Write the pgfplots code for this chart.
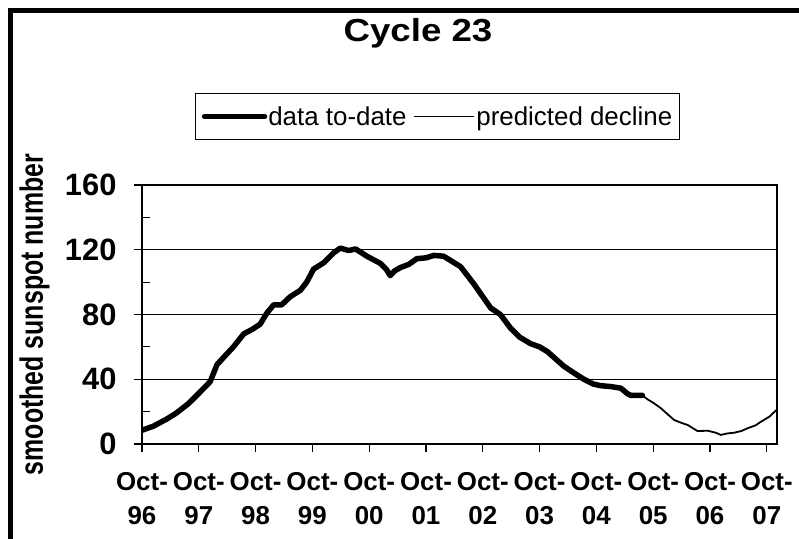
\documentclass[border=0pt]{standalone}
\usepackage{fontspec}
\setmainfont{Liberation Sans}
\usepackage{pgfplots}
\pgfplotsset{compat=1.18}

\pgfplotstableread{
x y
0.00 8.5
0.20 11
0.44 15.5
0.60 19
0.82 25
1.02 32
1.20 38.5
1.32 49
1.45 54
1.61 60
1.79 68
1.95 71
2.08 74
2.20 81
2.32 86
2.46 86
2.61 91
2.79 95
2.90 100
3.02 108
3.20 112
3.37 118
3.49 121
3.64 119.5
3.76 120.5
3.96 116
4.20 111.5
4.30 108
4.37 104
4.45 107
4.55 109
4.70 111
4.84 114.5
5.00 115
5.14 116.5
5.31 116
5.45 113
5.61 109.5
5.84 99
6.00 91
6.14 84
6.31 80
6.49 71.5
6.65 66
6.84 62
7.00 60
7.14 57
7.30 52
7.43 48
7.60 44
7.78 40
7.95 37
8.08 36
8.25 35.5
8.43 34.5
8.55 31
8.61 30
8.81 30
}\datatable

\pgfplotstableread{
x y
8.81 30
8.90 27.6
9.00 25.5
9.14 22
9.25 18.5
9.37 14.8
9.50 13
9.61 11.7
9.78 8
9.96 8.2
10.10 7
10.19 5.6
10.30 6.5
10.43 7
10.55 8
10.66 9.7
10.80 11.5
10.90 13.8
11.05 17
11.18 21.4
}\predtable

\begin{document}
\begin{tikzpicture}
\useasboundingbox (-142bp,-95bp) rectangle (657bp,444bp);
\fill[white] (-142bp,-95bp) rectangle (657bp,444bp);
\draw[line width=5bp] (-131.5bp,-95bp) -- (-131.5bp,433.5bp) -- (657bp,433.5bp);
\node[font=\fontsize{32}{38}\selectfont\bfseries, xscale=1.15, anchor=base] at (276bp,402bp) {Cycle 23};
\begin{axis}[
  at={(0,0)}, anchor=south west,
  scale only axis, width=635bp, height=259bp,
  xmin=0, xmax=11.18, ymin=0, ymax=160,
  axis line style={line width=1.5bp},
  xtick={0,...,11},
  xticklabels={{Oct-\\96},{Oct-\\97},{Oct-\\98},{Oct-\\99},{Oct-\\00},{Oct-\\01},{Oct-\\02},{Oct-\\03},{Oct-\\04},{Oct-\\05},{Oct-\\06},{Oct-\\07}},
  ytick={0,40,...,160},
  extra y ticks={20,60,100,140}, extra y tick labels={},
  extra y tick style={tick align=inside, grid=none},
  tick align=outside, major tick length=8bp,
  tick style={black, line width=1.2bp},
  xtick pos=bottom, ytick pos=left,
  ymajorgrids, major grid style={black, line width=1.2bp},
  /pgf/number format/assume math mode=true,
  yticklabel style={font=\fontsize{31}{36}\selectfont\bfseries, anchor=east, xshift=-14bp},
  xticklabel style={font=\fontsize{26}{34}\selectfont\bfseries, align=center, yshift=-17bp},
  ylabel={smoothed sunspot number},
  ylabel style={font=\fontsize{25}{30}\selectfont\bfseries, at={(axis description cs:-0.1693,0.5)}, anchor=center, yscale=1.3},
  legend columns=2,
  legend style={at={(axis description cs:0.4654,1.2645)}, anchor=center, draw=black, line width=1.2bp,
    font=\fontsize{26}{30}\selectfont, inner xsep=6bp, inner ysep=12bp,
    nodes={inner sep=1bp},
    /tikz/every even column/.append style={column sep=6bp}},
  legend image code/.code={\draw[#1] (0bp,0bp) -- (60bp,0bp);},
]
\addplot[black, line width=5.5bp, line join=round, line cap=round] table[x=x,y=y] {\datatable};
\addlegendentry{data to-date}
\addplot[black, line width=1.8bp, line join=round] table[x=x,y=y] {\predtable};
\addlegendentry{predicted decline}
\end{axis}
\end{tikzpicture}
\end{document}
